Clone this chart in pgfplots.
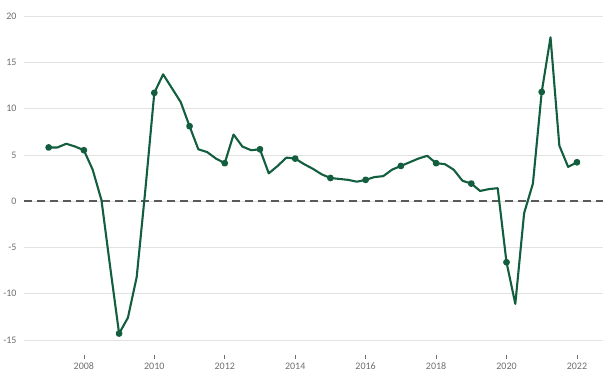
\documentclass[border=0pt]{standalone}
\usepackage{pgfplots}
\pgfplotsset{compat=1.18}
\usepackage{fontspec}
\setmainfont{Carlito}
\definecolor{linegreen}{RGB}{18,94,62}
\definecolor{zerogray}{RGB}{90,90,90}
\definecolor{ticktext}{RGB}{110,110,110}
\definecolor{gridc}{RGB}{226,226,226}
\begin{document}
\begin{tikzpicture}
\useasboundingbox (0pt,0pt) rectangle (613pt,383pt);
\begin{axis}[
  at={(24pt,28pt)}, anchor=south west,
  scale only axis, width=579pt, height=339pt,
  xmin=2006.30, xmax=2022.74,
  ymin=-16.62, ymax=20,
  axis line style={draw=none},
  xtick={2008,2010,...,2022},
  ytick={-15,-10,...,20},
  xtick pos=bottom, ytick pos=left,
  tick align=outside,
  major tick length=4pt,
  xtick style={ticktext, line width=0.6pt},
  ytick style={draw=none},
  xticklabel style={/pgf/number format/1000 sep={}, text=ticktext, font=\fontsize{10}{12}\selectfont},
  yticklabel style={text=ticktext, font=\fontsize{10}{12}\selectfont},
  /pgf/number format/assume math mode=true,
  ymajorgrids, grid style={gridc, line width=0.7pt},
  clip=false,
]
\addplot[zerogray, line width=2.4pt, dash pattern=on 8pt off 5pt, forget plot] coordinates {(2006.30,0) (2022.74,0)};
\addplot[linegreen, line width=2.1pt, line join=round, mark=*, mark size=2.3pt, mark phase=1, mark repeat=4, mark options={solid, fill=linegreen}] table {
x y
2007.00 5.8
2007.25 5.8
2007.50 6.2
2007.75 5.9
2008.00 5.5
2008.25 3.4
2008.50 0.1
2008.75 -7.2
2009.00 -14.3
2009.25 -12.6
2009.50 -8.2
2009.75 1.4
2010.00 11.7
2010.25 13.7
2010.50 12.2
2010.75 10.7
2011.00 8.1
2011.25 5.6
2011.50 5.3
2011.75 4.6
2012.00 4.1
2012.25 7.2
2012.50 5.9
2012.75 5.5
2013.00 5.6
2013.25 3.0
2013.50 3.8
2013.75 4.7
2014.00 4.6
2014.25 4.0
2014.50 3.5
2014.75 2.9
2015.00 2.5
2015.25 2.4
2015.50 2.3
2015.75 2.1
2016.00 2.3
2016.25 2.6
2016.50 2.7
2016.75 3.4
2017.00 3.8
2017.25 4.2
2017.50 4.6
2017.75 4.9
2018.00 4.1
2018.25 4.0
2018.50 3.4
2018.75 2.2
2019.00 1.9
2019.25 1.1
2019.50 1.3
2019.75 1.4
2020.00 -6.6
2020.25 -11.1
2020.50 -1.3
2020.75 1.9
2021.00 11.8
2021.25 17.7
2021.50 6.0
2021.75 3.7
2022.00 4.2
};
\end{axis}
\end{tikzpicture}
\end{document}
